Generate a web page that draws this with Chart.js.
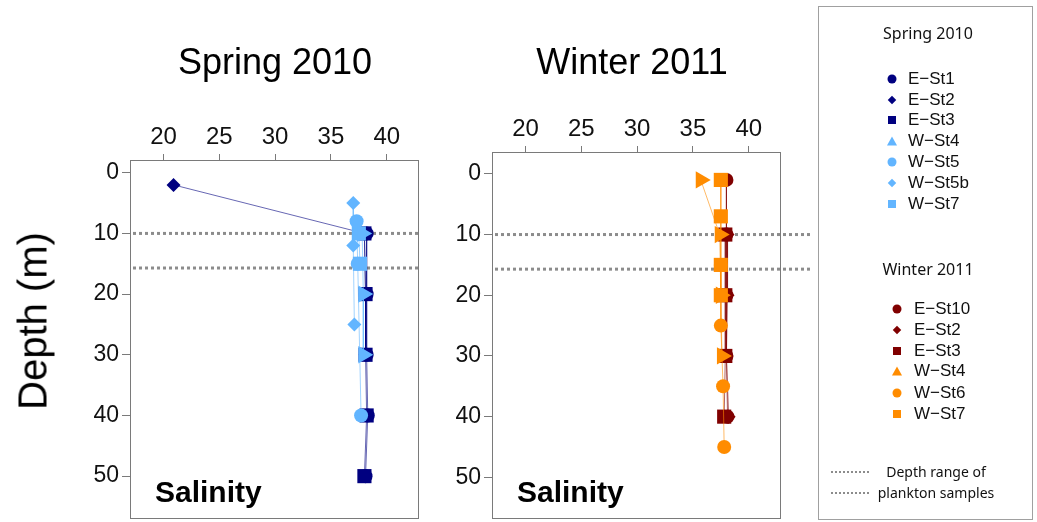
<!DOCTYPE html>
<html>
<head>
<meta charset="utf-8">
<script src="https://cdn.jsdelivr.net/npm/chart.js@4"></script>
<style>
  body { margin: 0; background: #fff; width: 1037px; height: 522px; position: relative; overflow: hidden; font-family: "Liberation Sans", Arial, sans-serif; }
  .box { position: absolute; }
  .titulo { position: absolute; font-size: 36px; color: #000; transform: translate(-50%, -50%); white-space: nowrap; }
  .sal { position: absolute; font-size: 30px; font-weight: bold; color: #000; }
  #ylab { position: absolute; left: 33px; top: 321px; font-size: 40px; transform: translate(-50%, -50%) rotate(-90deg); white-space: nowrap; }
  #legenda { position: absolute; left: 818px; top: 6px; width: 213px; height: 512px; border: 1px solid #a0a0a0; }
  .legtit { position: absolute; font-family: "Noto Sans", sans-serif; font-size: 16px; transform: translate(-50%, -50%); white-space: nowrap; color: #111; }
  .item { position: absolute; font-size: 17px; color: #111; transform: translateY(-50%); white-space: nowrap; }
  .mk { position: absolute; transform: translate(-50%, -50%); }
  .obs { position: absolute; font-family: "Noto Sans", sans-serif; font-size: 14px; transform: translate(-50%, -50%); white-space: nowrap; color: #111; }
  .pont { position: absolute; width: 38px; border-top: 2px dotted #8c8c8c; }
</style>
</head>
<body>
<div class="box" style="left:0;top:0;width:440px;height:522px"><canvas id="grafico-1"></canvas></div>
<div class="box" style="left:440px;top:0;width:380px;height:522px"><canvas id="grafico-2"></canvas></div>
<div class="titulo" style="left:275px;top:62px">Spring 2010</div>
<div class="titulo" style="left:632px;top:62px">Winter 2011</div>
<div id="ylab">Depth (m)</div>
<div class="sal" style="left:155px;top:475px">Salinity</div>
<div class="sal" style="left:517px;top:475px">Salinity</div>
<div id="legenda"></div>

<script>
// eixos
const depthTicks = [0, 10, 20, 30, 40, 50];
const salTicks = [20, 25, 30, 35, 40];
const planktonDepths = [10, 15.7];

// Spring 2010
const sp_eSt1_depth = [10, 20, 30, 40, 50];
const sp_eSt1_sal = [38.2, 38.2, 38.2, 38.3, 38.1];
const sp_eSt2_depth = [2, 10, 20, 30];
const sp_eSt2_sal = [20.9, 38.0, 38.1, 38.1];
const sp_eSt3_depth = [10, 20, 30, 40, 50];
const sp_eSt3_sal = [38.0, 38.1, 38.1, 38.2, 38.0];
const sp_wSt4_depth = [10, 20, 30];
const sp_wSt4_sal = [37.8, 37.9, 37.9];
const sp_wSt5_depth = [8, 15, 40];
const sp_wSt5_sal = [37.3, 37.4, 37.7];
const sp_wSt5b_depth = [5, 12, 25];
const sp_wSt5b_sal = [37.0, 37.0, 37.1];
const sp_wSt7_depth = [10, 15];
const sp_wSt7_sal = [37.5, 37.6];

// Winter 2011
const wi_eSt10_depth = [1, 10, 20, 30, 40];
const wi_eSt10_sal = [38.0, 38.0, 38.0, 38.0, 38.1];
const wi_eSt2_depth = [10, 20, 30, 40];
const wi_eSt2_sal = [38.1, 38.1, 38.0, 38.2];
const wi_eSt3_depth = [10, 20, 30, 40];
const wi_eSt3_sal = [37.9, 37.9, 37.9, 37.8];
const wi_wSt4_depth = [1, 10, 20, 30];
const wi_wSt4_sal = [35.7, 37.4, 37.5, 37.6];
const wi_wSt6_depth = [15, 25, 35, 45];
const wi_wSt6_sal = [37.5, 37.5, 37.7, 37.8];
const wi_wSt7_depth = [1, 7, 15, 20];
const wi_wSt7_sal = [37.5, 37.5, 37.5, 37.5];

const NAVY = "#000080";
const AZUL = "#62b5ff";
const VINHO = "#800000";
const LARANJA = "#ff8c00";

function fade(hex, a) {
  const n = parseInt(hex.slice(1), 16);
  return `rgba(${(n >> 16) & 255}, ${(n >> 8) & 255}, ${n & 255}, ${a})`;
}

function pontos(depths, sals) {
  return depths.map((d, i) => ({ x: sals[i], y: d }));
}

function serie(label, depths, sals, cor, forma, ordem) {
  let raio = 7;
  let rot = 0;
  if (forma === "rect") raio = 10;
  if (forma === "triangle") { raio = 10; rot = 90; }
  return {
    label: label,
    data: pontos(depths, sals),
    showLine: true,
    borderColor: fade(cor, 0.6),
    borderWidth: 1,
    backgroundColor: cor,
    pointBackgroundColor: cor,
    pointBorderColor: cor,
    pointBorderWidth: 0,
    pointStyle: forma,
    pointRadius: raio,
    pointRotation: rot,
    order: ordem,
    clip: false,
  };
}

const datasetsSpring = [
  serie("E−St1", sp_eSt1_depth, sp_eSt1_sal, NAVY, "circle", 1),
  serie("E−St2", sp_eSt2_depth, sp_eSt2_sal, NAVY, "rectRot", 1),
  serie("E−St3", sp_eSt3_depth, sp_eSt3_sal, NAVY, "rect", 1),
  serie("W−St4", sp_wSt4_depth, sp_wSt4_sal, AZUL, "triangle", 0),
  serie("W−St5", sp_wSt5_depth, sp_wSt5_sal, AZUL, "circle", 0),
  serie("W−St5b", sp_wSt5b_depth, sp_wSt5b_sal, AZUL, "rectRot", 0),
  serie("W−St7", sp_wSt7_depth, sp_wSt7_sal, AZUL, "rect", 0),
];

const datasetsWinter = [
  serie("E−St10", wi_eSt10_depth, wi_eSt10_sal, VINHO, "circle", 1),
  serie("E−St2", wi_eSt2_depth, wi_eSt2_sal, VINHO, "rectRot", 1),
  serie("E−St3", wi_eSt3_depth, wi_eSt3_sal, VINHO, "rect", 1),
  serie("W−St4", wi_wSt4_depth, wi_wSt4_sal, LARANJA, "triangle", 0),
  serie("W−St6", wi_wSt6_depth, wi_wSt6_sal, LARANJA, "circle", 0),
  serie("W−St7", wi_wSt7_depth, wi_wSt7_sal, LARANJA, "rect", 0),
];

// caixa em volta da area + linhas pontilhadas das amostras
const caixaPlugin = {
  id: "caixa",
  beforeDatasetsDraw(chart, args, opts) {
    const { ctx, chartArea, scales } = chart;
    ctx.save();
    ctx.strokeStyle = "#8c8c8c";
    ctx.lineWidth = 3;
    ctx.setLineDash([3, 3]);
    planktonDepths.forEach((d) => {
      const y = scales.y.getPixelForValue(d);
      ctx.beginPath();
      ctx.moveTo(chartArea.left + 3, y);
      ctx.lineTo(chartArea.right + (opts.extra || 0), y);
      ctx.stroke();
    });
    ctx.restore();
  },
  afterDraw(chart) {
    const { ctx, chartArea } = chart;
    ctx.save();
    ctx.strokeStyle = "#7a7a7a";
    ctx.lineWidth = 1;
    ctx.strokeRect(chartArea.left + 0.5, chartArea.top + 0.5, chartArea.right - chartArea.left, chartArea.bottom - chartArea.top);
    ctx.restore();
  },
};

function opcoes(yMin, yMax, yWidth, padTop, padRight, extra) {
  return {
    responsive: true,
    maintainAspectRatio: false,
    animation: false,
    events: [],
    layout: { autoPadding: false, padding: { left: 0, top: padTop, right: padRight, bottom: 4 } },
    plugins: {
      legend: { display: false },
      tooltip: { enabled: false },
      caixa: { extra: extra },
    },
    scales: {
      x: {
        type: "linear",
        position: "top",
        min: 17.0,
        max: 42.8,
        afterBuildTicks: (s) => { s.ticks = salTicks.map((v) => ({ value: v })); },
        afterFit: (s) => { s.height = 40; s.paddingLeft = 0; s.paddingRight = 0; },
        grid: { drawOnChartArea: false, drawTicks: true, tickLength: 6, color: "#7a7a7a" },
        border: { color: "#7a7a7a" },
        ticks: { color: "#111", padding: 2, font: { family: "'Liberation Sans', Arial, sans-serif", size: 24 } },
      },
      y: {
        type: "linear",
        position: "left",
        reverse: true,
        min: yMin,
        max: yMax,
        afterBuildTicks: (s) => { s.ticks = depthTicks.map((v) => ({ value: v })); },
        // sem padding extra dos rotulos, a caixa vai ate o fim
        afterFit: (s) => { s.width = yWidth; s.paddingTop = 0; s.paddingBottom = 0; },
        grid: { drawOnChartArea: false, drawTicks: true, tickLength: 8, color: "#7a7a7a" },
        border: { color: "#7a7a7a" },
        ticks: { color: "#111", padding: 3, font: { family: "'Liberation Sans', Arial, sans-serif", size: 23 } },
      },
    },
  };
}

const ctx1 = document.getElementById("grafico-1").getContext("2d");
const myChart1 = new Chart(ctx1, {
  type: "scatter",
  data: { datasets: datasetsSpring },
  options: opcoes(-2.1, 56.9, 130, 120, 22, 0),
  plugins: [caixaPlugin],
});

const ctx2 = document.getElementById("grafico-2").getContext("2d");
const myChart2 = new Chart(ctx2, {
  type: "scatter",
  data: { datasets: datasetsWinter },
  options: opcoes(-3.6, 56.7, 52, 112, 40, 32),
  plugins: [caixaPlugin],
});

// legenda (caixa da direita)
const legenda = document.getElementById("legenda");
function marcador(forma, cor, x, y) {
  const m = document.createElement("div");
  m.className = "mk";
  m.style.left = x + "px";
  m.style.top = y + "px";
  if (forma === "circle") {
    m.style.width = "9px"; m.style.height = "9px"; m.style.borderRadius = "50%"; m.style.background = cor;
  } else if (forma === "rectRot") {
    m.style.width = "6px"; m.style.height = "6px"; m.style.background = cor;
    m.style.transform = "translate(-50%, -50%) rotate(45deg)";
  } else if (forma === "rect") {
    m.style.width = "8px"; m.style.height = "8px"; m.style.background = cor;
  } else {
    m.style.width = "0"; m.style.height = "0";
    m.style.borderLeft = "5px solid transparent";
    m.style.borderRight = "5px solid transparent";
    m.style.borderBottom = "9px solid " + cor;
  }
  legenda.appendChild(m);
}
function grupo(titulo, tituloY, sets, mx, tx, ys) {
  const t = document.createElement("div");
  t.className = "legtit";
  t.style.left = "109px";
  t.style.top = tituloY + "px";
  t.textContent = titulo;
  legenda.appendChild(t);
  sets.forEach((ds, i) => {
    marcador(ds.pointStyle, ds.pointBackgroundColor, mx, ys[i]);
    const it = document.createElement("div");
    it.className = "item";
    it.style.left = tx + "px";
    it.style.top = ys[i] + "px";
    it.textContent = ds.label;
    legenda.appendChild(it);
  });
}
// posicoes relativas a caixa (left 818, top 6)
grupo("Spring 2010", 26, datasetsSpring, 73, 89, [72, 93, 113, 134, 155, 176, 197]);
grupo("Winter 2011", 262, datasetsWinter, 78, 95, [302, 323, 344, 364, 386, 407]);

[["Depth range of", 464], ["plankton samples", 485]].forEach(([txt, y]) => {
  const p = document.createElement("div");
  p.className = "pont";
  p.style.left = "12px";
  p.style.top = y + "px";
  legenda.appendChild(p);
  const o = document.createElement("div");
  o.className = "obs";
  o.style.left = "117px";
  o.style.top = y + "px";
  o.textContent = txt;
  legenda.appendChild(o);
});
</script>
</body>
</html>
